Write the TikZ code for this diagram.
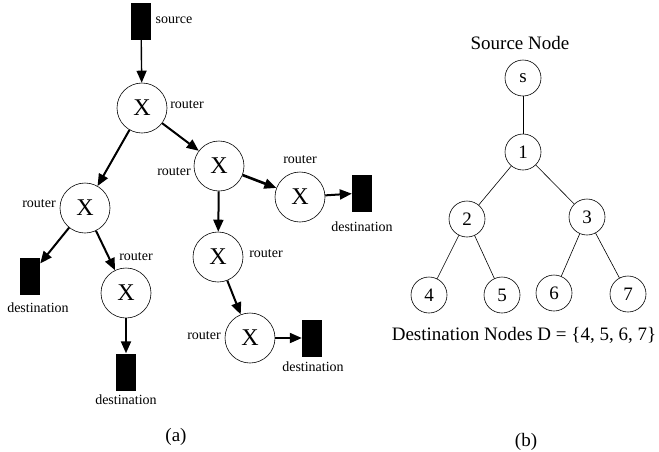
\documentclass[tikz,border=0pt]{standalone}
\usepackage{fontspec}
\setmainfont{Liberation Serif}
\usetikzlibrary{arrows.meta}

\tikzset{
  router/.style={circle, draw, line width=0.6pt, minimum size=50pt, inner sep=0pt,
    font=\fontsize{24}{26}\selectfont},
  host/.style={fill=black, minimum width=20pt, minimum height=37pt, inner sep=0pt},
  lbl/.style={font=\fontsize{14}{16}\selectfont, inner sep=0pt},
  tnode/.style={circle, draw, line width=0.6pt, minimum size=36pt, inner sep=0pt,
    font=\fontsize{19}{21}\selectfont},
  big/.style={font=\fontsize{19}{21}\selectfont, inner sep=0pt},
  arr/.style={line width=2pt, -{Triangle[length=12pt,width=10pt]}}
}

\begin{document}
\begin{tikzpicture}[x=1pt, y=-1pt]
\useasboundingbox (0,0) rectangle (659,451);

% (a) multicast routing
\node[host] (src) at (141,21) {};
\node[lbl] (srclbl) at (174,20) {source};

\node[router] (r1) at (142,108) {X};
\node[router] (r2) at (219,166) {X};
\node[router] (r3) at (300,197) {X};
\node[router] (r4) at (85,208) {X};
\node[router] (r5) at (218,257) {X};
\node[router] (r6) at (250,338) {X};
\node[router] (r7) at (126,293) {X};

\node[lbl] (r1lbl) at (187,105) {router};
\node[lbl] (r2lbl) at (174,172) {router};
\node[lbl] (r3lbl) at (300,160) {router};
\node[lbl] (r4lbl) at (39,204) {router};
\node[lbl] (r5lbl) at (266,254) {router};
\node[lbl] (r6lbl) at (204,336) {router};
\node[lbl] (r7lbl) at (136,257) {router};

\node[host] (d3) at (362,193) {};
\node[host] (d6) at (312,338) {};
\node[host] (d4) at (30,276) {};
\node[host] (d7) at (126,372) {};

\node[lbl] (d3lbl) at (362,227) {destination};
\node[lbl] (d6lbl) at (313,367) {destination};
\node[lbl] (d4lbl) at (38,308) {destination};
\node[lbl] (d7lbl) at (126,400) {destination};

\draw[arr, line width=1.4pt] (src) -- (r1);
\foreach \a/\b in {r1/r4, r1/r2, r2/r5, r5/r6, r6/d6, r4/d4, r4/r7, r7/d7, r3/d3}
  \draw[arr] (\a) -- (\b);
\draw[arr, line width=2.6pt] (r2) -- (r3);

\node[big] (capa) at (176,437) {(a)};

% (b) multicast tree
\node[big] (srcnode) at (520,43) {Source Node};
\node[tnode] (ts) at (523,78) {s};
\node[tnode] (t1) at (523,152) {1};
\node[tnode] (t2) at (467,219) {2};
\node[tnode] (t3) at (587,217) {3};
\node[tnode] (t4) at (429,295) {4};
\node[tnode] (t5) at (502,295) {5};
\node[tnode] (t6) at (554,293) {6};
\node[tnode] (t7) at (628,294) {7};

\foreach \a/\b in {ts/t1, t1/t2, t1/t3, t2/t4, t2/t5, t3/t6, t3/t7}
  \draw[line width=0.6pt] (\a) -- (\b);

\node[big] (dstnodes) at (524,335) {Destination Nodes D = \{4, 5, 6, 7\}};
\node[big] (capb) at (526,442) {(b)};
\end{tikzpicture}
\end{document}
